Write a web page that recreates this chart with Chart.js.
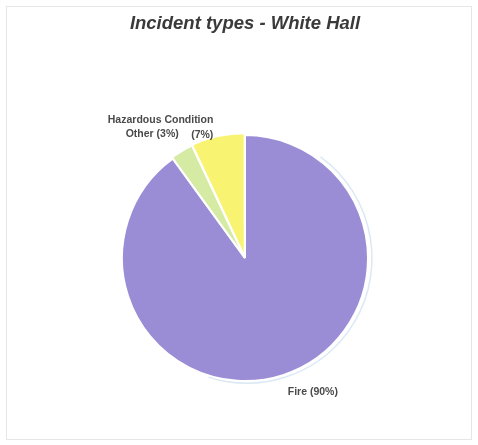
<!DOCTYPE html>
<html>
<head>
<meta charset="utf-8">
<script src="https://cdn.jsdelivr.net/npm/chart.js@4.4.1/dist/chart.umd.min.js"></script>
<style>
  html, body { margin: 0; padding: 0; background: #ffffff; }
  #wrap { position: relative; width: 478px; height: 445px; }
  #frame { position: absolute; left: 6px; top: 6px; width: 464px; height: 432px; border: 1px solid #e6e6e6; }
  canvas { position: absolute; left: 0; top: 0; }
</style>
</head>
<body>
<div id="wrap">
  <div id="frame"></div>
  <canvas id="c" width="478" height="445"></canvas>
</div>
<script>
// Incident counts by type, as percentages of all incidents
const categories = ['Fire', 'Other', 'Hazardous Condition'];
const shares = [90, 3, 7];
const sliceColors = ['#9a8dd6', '#d5eaa2', '#f8f371'];

// Label placement around each slice (pixel nudges relative to the slice's outer edge)
const labelLayout = [
  { lines: (n, p) => [n + ' (' + p + '%)'], dx: 23, dy: -4, align: 'center' },
  { lines: (n, p) => [n + ' (' + p + '%)'], dx: -19, dy: 1, align: 'center' },
  { lines: (n, p) => [n, '(' + p + '%)'], dx: 0, dy: 11, align: 'right' }
];

const sliceLabels = {
  id: 'sliceLabels',
  afterDatasetsDraw(chart) {
    const ctx = chart.ctx;
    const meta = chart.getDatasetMeta(0);
    ctx.save();
    ctx.font = 'bold 10.5px "Liberation Sans", Arial, sans-serif';
    ctx.fillStyle = '#4a4a4a';
    ctx.textBaseline = 'middle';
    meta.data.forEach((arc, i) => {
      const mid = (arc.startAngle + arc.endAngle) / 2;
      const r = arc.outerRadius + 22;
      const x = arc.x + Math.cos(mid) * r + labelLayout[i].dx;
      const y = arc.y + Math.sin(mid) * r + labelLayout[i].dy;
      const lines = labelLayout[i].lines(categories[i], shares[i]);
      ctx.textAlign = labelLayout[i].align;
      lines.forEach((t, k) => {
        ctx.fillText(t, x, y + (k - (lines.length - 1) / 2) * 15);
      });
    });
    ctx.restore();
  }
};

// faint pale-blue rim along the right side of the pie
const rim = {
  id: 'rim',
  beforeDatasetsDraw(chart) {
    const meta = chart.getDatasetMeta(0);
    const arc = meta.data[0];
    if (!arc) return;
    const ctx = chart.ctx;
    ctx.save();
    ctx.strokeStyle = 'rgba(195,218,236,0.6)';
    ctx.lineWidth = 1.5;
    ctx.beginPath();
    ctx.arc(arc.x + 2, arc.y, arc.outerRadius + 2, -Math.PI * 0.3, Math.PI * 0.6);
    ctx.stroke();
    ctx.restore();
  }
};

new Chart(document.getElementById('c'), {
  type: 'pie',
  data: {
    labels: categories,
    datasets: [{
      data: shares,
      backgroundColor: sliceColors,
      borderColor: '#ffffff',
      borderWidth: 2,
      offset: [0, 3, 5]
    }]
  },
  options: {
    responsive: false,
    animation: false,
    radius: 123,
    layout: { padding: { left: 12, right: 0, top: 0, bottom: 20 } },
    plugins: {
      legend: { display: false },
      tooltip: { enabled: false },
      title: {
        display: true,
        text: 'Incident types - White Hall',
        color: '#3a3a3a',
        font: { family: '"Liberation Sans", Arial, sans-serif', size: 18.5, style: 'italic', weight: 'bold' },
        padding: { top: 13, bottom: 56 }
      }
    }
  },
  plugins: [rim, sliceLabels]
});
</script>
</body>
</html>
